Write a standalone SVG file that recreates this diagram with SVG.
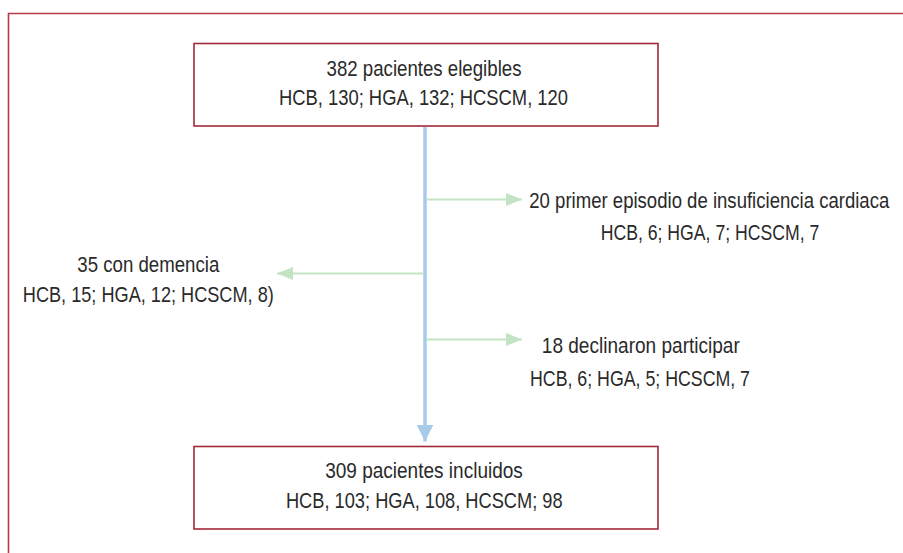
<svg xmlns="http://www.w3.org/2000/svg" width="903" height="553" viewBox="0 0 903 553">
<style>
.frame{fill:none;stroke:#b83a4c;stroke-width:1.6}
.box{fill:#fff;stroke:#a3283a;stroke-width:1.6}
.t{font-family:"Liberation Sans",Arial,sans-serif;font-size:21.5px;fill:#2a2a2a;text-anchor:middle}
.main{stroke:#a8cbea;stroke-width:3.5;fill:none}
.side{stroke:#c3e3c5;stroke-width:2;fill:none}
</style>
<defs>
<marker id="ab" markerUnits="userSpaceOnUse" markerWidth="18" markerHeight="22" refX="17" refY="8.5" orient="auto">
<path d="M0,0 L17,8.5 L0,17 Z" fill="#a8cbea"/>
</marker>
<marker id="ag" markerUnits="userSpaceOnUse" markerWidth="18" markerHeight="14" refX="16" refY="6.5" orient="auto">
<path d="M0,0 L16,6.5 L0,13 Z" fill="#c3e3c5"/>
</marker>
</defs>
<rect x="0" y="0" width="903" height="553" fill="#fff"/>
<path class="frame" d="M8.5,560 L8.5,13.5 L910,13.5"/>
<g id="connectors">
<line class="main" x1="425" y1="127" x2="425" y2="441.5" marker-end="url(#ab)"/>
<line class="side" x1="426.5" y1="199.5" x2="522" y2="199.5" marker-end="url(#ag)"/>
<line class="side" x1="423.5" y1="273.5" x2="277" y2="273.5" marker-end="url(#ag)"/>
<line class="side" x1="426.5" y1="339.5" x2="522" y2="339.5" marker-end="url(#ag)"/>
</g>
<g id="eligibles">
<rect class="box" x="194" y="43.5" width="464" height="82.5"/>
<text class="t" x="424" y="76" textLength="195" lengthAdjust="spacingAndGlyphs">382 pacientes elegibles</text>
<text class="t" x="423.5" y="105" textLength="289" lengthAdjust="spacingAndGlyphs">HCB, 130; HGA, 132; HCSCM, 120</text>
</g>
<g id="insuficiencia">
<text class="t" x="709.3" y="208" textLength="360" lengthAdjust="spacingAndGlyphs">20 primer episodio de insuficiencia cardiaca</text>
<text class="t" x="710" y="240" textLength="218.6" lengthAdjust="spacingAndGlyphs">HCB, 6; HGA, 7; HCSCM, 7</text>
</g>
<g id="demencia">
<text class="t" x="148.3" y="271.7" textLength="142" lengthAdjust="spacingAndGlyphs">35 con demencia</text>
<text class="t" x="148.3" y="301.7" textLength="251" lengthAdjust="spacingAndGlyphs">HCB, 15; HGA, 12; HCSCM, 8)</text>
</g>
<g id="declinaron">
<text class="t" x="640.8" y="353.3" textLength="198" lengthAdjust="spacingAndGlyphs">18 declinaron participar</text>
<text class="t" x="640" y="385.7" textLength="220" lengthAdjust="spacingAndGlyphs">HCB, 6; HGA, 5; HCSCM, 7</text>
</g>
<g id="incluidos">
<rect class="box" x="194" y="446.5" width="464" height="82.5"/>
<text class="t" x="424" y="478" textLength="197.7" lengthAdjust="spacingAndGlyphs">309 pacientes incluidos</text>
<text class="t" x="424.3" y="508" textLength="276.7" lengthAdjust="spacingAndGlyphs">HCB, 103; HGA, 108, HCSCM; 98</text>
</g>
</svg>
